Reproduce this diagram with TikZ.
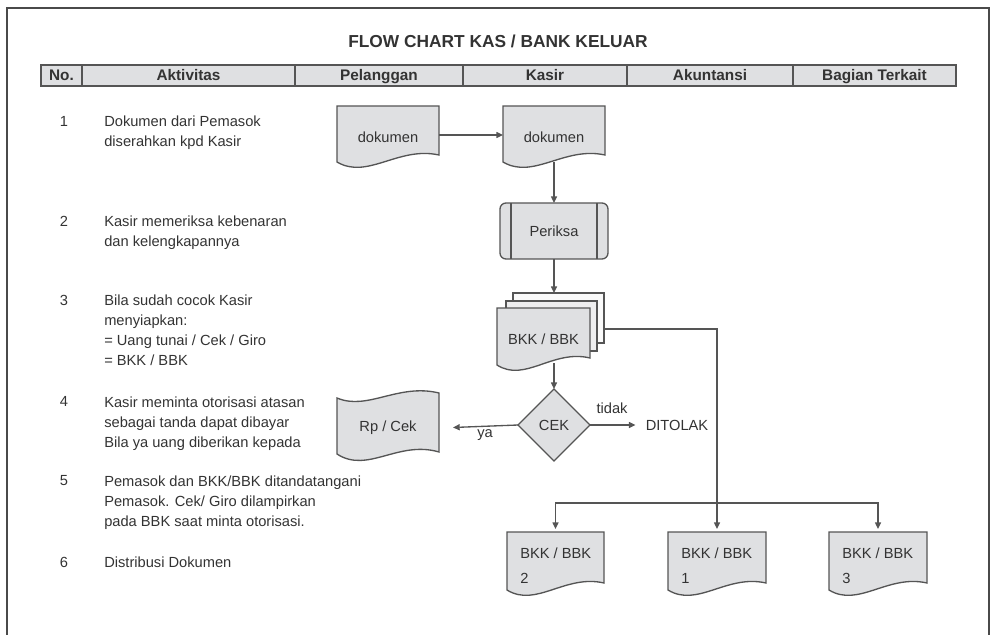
\documentclass[tikz,border=0pt]{standalone}
\usepackage{fontspec}
\setmainfont{Liberation Sans}
\usetikzlibrary{arrows.meta,calc,shapes.geometric}
\definecolor{ink}{HTML}{333333}
\definecolor{edge}{HTML}{555555}
\definecolor{frame}{HTML}{4A4A4A}
\definecolor{shade}{HTML}{DFE0E2}
\definecolor{shadeB}{HTML}{EEEEEF}
\definecolor{shadeC}{HTML}{FAFAFA}

% document symbol: straight top and sides, wavy bottom (node box reaches the wave's lowest point)
\newcommand\docoutline[2]{%
  \draw[line,fill=#2] (#1.north west) -- (#1.north east) -- ($(#1.south east)+(0,-13)$)
    .. controls ($(#1.south west)!0.6!(#1.south east)+(0,-22)$) and ($(#1.south west)!0.3!(#1.south east)+(0,12)$)
    .. ($(#1.south west)+(0,-6)$) -- cycle;}

\begin{document}
\begin{tikzpicture}[x=0.75pt,y=-0.75pt,
  line/.style={draw=edge,line width=1pt},
  flow/.style={line,-{Triangle[length=5pt,width=4.5pt]}},
  txt/.style={text=ink,font=\fontsize{11}{15}\selectfont},
  headcell/.style={draw=edge,line width=1pt,fill=shade,inner sep=0pt,minimum height=15.75pt,
    text height=8.2pt,text depth=0pt,
    text=ink,font=\fontsize{11.5}{12}\selectfont\bfseries},
  shapebox/.style={inner sep=0pt,outer sep=0pt,txt},
  docbox/.style={shapebox,minimum width=76.5pt,minimum height=46.5pt},
  item/.style={txt,inner sep=0pt,anchor=north west,align=left},
  num/.style={txt,inner sep=0pt,anchor=north},
]
\useasboundingbox (0,0) rectangle (990,635);

% outer frame, open at the bottom
\draw[frame,line width=1.5pt] (7,640) -- (7,8) -- (989,8) -- (989,640);

% title and column heads
\node[text=ink,font=\fontsize{13}{15}\selectfont\bfseries] (title) at (498,41) {FLOW CHART KAS / BANK KELUAR};
\node[headcell,minimum width=30.75pt]  (hno)  at (61.5,75.5)  {No.};
\node[headcell,minimum width=159.75pt] (hakt) at (188.5,75.5) {Aktivitas};
\node[headcell,minimum width=126pt]    (hpel) at (379,75.5)   {Pelanggan};
\node[headcell,minimum width=123pt]    (hkas) at (545,75.5)   {Kasir};
\node[headcell,minimum width=124.5pt]  (hakn) at (710,75.5)   {Akuntansi};
\node[headcell,minimum width=122.25pt] (hbag) at (874.5,75.5) {Bagian Terkait};

% activity list
\node[num]  (n1) at (64,116) {1};
\node[item] (a1) at (104,116) {Dokumen dari Pemasok\\diserahkan kpd Kasir};
\node[num]  (n2) at (64,215.5) {2};
\node[item] (a2) at (104,215.5) {Kasir memeriksa kebenaran\\dan kelengkapannya};
\node[num]  (n3) at (64,294.5) {3};
\node[item] (a3) at (104,294.5) {Bila sudah cocok Kasir\\menyiapkan:\\= Uang tunai / Cek / Giro\\= BKK / BBK};
\node[num]  (n4) at (64,396.5) {4};
\node[item] (a4) at (104,396.5) {Kasir meminta otorisasi atasan\\sebagai tanda dapat dibayar\\Bila ya uang diberikan kepada};
\node[num]  (n5) at (64,475.5) {5};
\node[item] (a5) at (104,475.5) {Pemasok dan BKK/BBK ditandatangani\\Pemasok. Cek/ Giro dilampirkan\\pada BBK saat minta otorisasi.};
\node[num]  (n6) at (64,556.5) {6};
\node[item] (a6) at (104,556.5) {Distribusi Dokumen};

% incoming documents
\node[docbox] (dp) at (388,137) {};
\docoutline{dp}{shade}
\node[txt] at (dp) {dokumen};
\node[docbox] (dk) at (554,137) {};
\docoutline{dk}{shade}
\node[txt] at (dk) {dokumen};

% checking step (predefined process)
\node[shapebox,draw=edge,line width=1pt,fill=shade,rounded corners=4.5pt,
      minimum width=81pt,minimum height=42pt] (pr) at (554,231) {Periksa};
\draw[line] ($(pr.north west)+(11,0)$) -- ($(pr.south west)+(11,0)$);
\draw[line] ($(pr.north east)+(-11,0)$) -- ($(pr.south east)+(-11,0)$);

% stack of BKK / BBK copies
\node[shapebox,draw=edge,line width=1pt,fill=shadeC,minimum width=68.25pt,minimum height=37.5pt] (sb) at (558.5,318) {};
\node[shapebox,draw=edge,line width=1pt,fill=shadeB,minimum width=68.25pt,minimum height=37.5pt] (sm) at (551.5,326) {};
\node[shapebox,minimum width=69.75pt,minimum height=47.25pt] (sf) at (543.5,339.5) {};
\docoutline{sf}{shade}
\node[txt] at (sf) {BKK / BBK};

% authorisation decision
\node[shapebox,draw=edge,line width=1pt,fill=shade,shape=diamond,minimum width=54pt,minimum height=54pt] (cek) at (554,425) {CEK};
\node[txt,inner xsep=7.5pt,inner ysep=0pt,anchor=west] (tolak) at (635.5,425) {DITOLAK};
\node[txt,inner sep=0pt] (ya) at (485,435) {ya};
\node[txt,inner sep=0pt] (tidak) at (612,408) {tidak};

% payment (punched tape)
\node[shapebox,minimum width=76.5pt,minimum height=51.75pt] (rp) at (388,427.5) {};
\draw[line,fill=shade] ($(rp.north west)+(0,5)$)
    .. controls ($(rp.north west)!0.3!(rp.north east)+(0,18)$) and ($(rp.north west)!0.6!(rp.north east)+(0,-10)$)
    .. ($(rp.north east)+(0,0)$) -- ($(rp.south east)+(0,-10)$)
    .. controls ($(rp.south west)!0.6!(rp.south east)+(0,-22)$) and ($(rp.south west)!0.3!(rp.south east)+(0,12)$)
    .. ($(rp.south west)+(0,-8)$) -- cycle;
\node[txt] at (rp) {Rp / Cek};

% distributed copies
\node[docbox,minimum width=72.75pt,minimum height=48pt] (b2) at (555.5,564) {};
\docoutline{b2}{shade}
\node[txt,align=left,anchor=west,inner sep=0pt] at ($(b2.west)+(13,2)$) {BKK / BBK\\[4pt]2};
\node[docbox,minimum width=73.5pt,minimum height=48pt] (b1) at (717,564) {};
\docoutline{b1}{shade}
\node[txt,align=left,anchor=west,inner sep=0pt] at ($(b1.west)+(13,2)$) {BKK / BBK\\[4pt]1};
\node[docbox,minimum width=73.5pt,minimum height=48pt] (b3) at (878,564) {};
\docoutline{b3}{shade}
\node[txt,align=left,anchor=west,inner sep=0pt] at ($(b3.west)+(13,2)$) {BKK / BBK\\[4pt]3};

% connectors
\draw[flow] (dp.east |- dk.west) ++(0,-2) coordinate (p1) -- (p1 -| dk.west);
\draw[flow] ($(dk.south)+(0,-6)$) -- (pr.north);
\draw[flow] (pr.south) -- (pr.south |- sb.north);
\draw[flow] ($(cek.north |- sf.south)+(0,-8)$) -- (cek.north);
\draw[flow] (cek.west) -- ($(rp.east)+(14,0)$);
\draw[flow] (cek.east) -- (tolak.west);
\draw[flow] ($(sb.east)+(0,11)$) -| ($(b1.north)+(0,-3)$);
\coordinate (split) at (b1.north |- 0,503);
\draw[flow] (split) -| ($(b2.north)+(0,-3)$);
\draw[flow] (split) -| ($(b3.north)+(0,-3)$);
\end{tikzpicture}
\end{document}
